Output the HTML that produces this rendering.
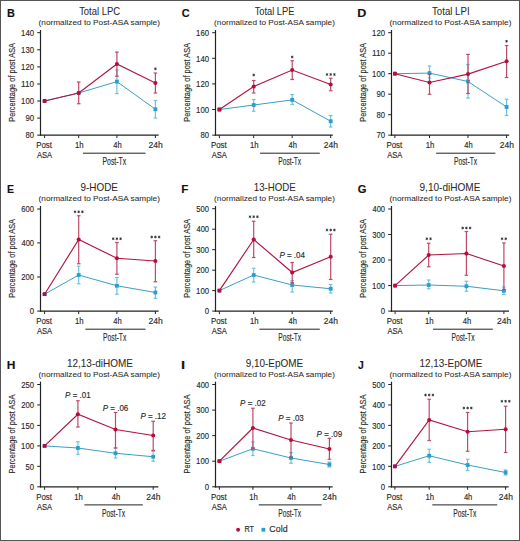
<!DOCTYPE html>
<html><head><meta charset="utf-8"><style>
html,body{margin:0;padding:0;background:#fff;}
body{width:520px;height:541px;overflow:hidden;}
svg{display:block;font-family:"Liberation Sans",sans-serif;}
text{stroke:#2a2a2a;stroke-width:0.15px;}
</style></head><body>
<svg width="520" height="541" viewBox="0 0 520 541">
<rect x="0" y="0" width="520" height="541" fill="#fff"/>
<rect x="0.5" y="0.5" width="519" height="540" fill="none" stroke="#555" stroke-width="1"/>
<text x="6.92" y="17.00" font-size="11.8" fill="#111" textLength="7.86" lengthAdjust="spacingAndGlyphs" font-weight="bold">B</text>
<text x="79.15" y="14.80" font-size="10.1" fill="#2a2a2a" textLength="40.98" lengthAdjust="spacingAndGlyphs" style="stroke-width:0.05px">Total LPC</text>
<text x="38.62" y="24.90" font-size="7.9" fill="#2a2a2a" textLength="121.31" lengthAdjust="spacingAndGlyphs" style="stroke-width:0.05px">(normalized to Post-ASA sample)</text>
<text x="0" y="0" font-size="9.9" fill="#2a2a2a" textLength="78.84" lengthAdjust="spacingAndGlyphs" transform="translate(15.30,121.78) rotate(-90)">Percentage of post ASA</text>
<line x1="40.50" y1="30.00" x2="40.50" y2="135.75" stroke="#222" stroke-width="1.2"/>
<line x1="37.20" y1="32.70" x2="40.50" y2="32.70" stroke="#222" stroke-width="1.0"/>
<text x="21.11" y="35.90" font-size="9" fill="#2a2a2a" textLength="12.98" lengthAdjust="spacingAndGlyphs">140</text>
<line x1="37.20" y1="49.80" x2="40.50" y2="49.80" stroke="#222" stroke-width="1.0"/>
<text x="21.11" y="53.00" font-size="9" fill="#2a2a2a" textLength="12.98" lengthAdjust="spacingAndGlyphs">130</text>
<line x1="37.20" y1="66.90" x2="40.50" y2="66.90" stroke="#222" stroke-width="1.0"/>
<text x="21.11" y="70.10" font-size="9" fill="#2a2a2a" textLength="12.98" lengthAdjust="spacingAndGlyphs">120</text>
<line x1="37.20" y1="84.00" x2="40.50" y2="84.00" stroke="#222" stroke-width="1.0"/>
<text x="21.09" y="87.20" font-size="9" fill="#2a2a2a" textLength="13.01" lengthAdjust="spacingAndGlyphs">110</text>
<line x1="37.20" y1="101.00" x2="40.50" y2="101.00" stroke="#222" stroke-width="1.0"/>
<text x="21.11" y="104.20" font-size="9" fill="#2a2a2a" textLength="12.98" lengthAdjust="spacingAndGlyphs">100</text>
<line x1="37.20" y1="118.10" x2="40.50" y2="118.10" stroke="#222" stroke-width="1.0"/>
<text x="25.44" y="121.30" font-size="9" fill="#2a2a2a" textLength="8.66" lengthAdjust="spacingAndGlyphs">90</text>
<line x1="37.20" y1="135.15" x2="40.50" y2="135.15" stroke="#222" stroke-width="1.0"/>
<text x="25.56" y="138.35" font-size="9" fill="#2a2a2a" textLength="8.53" lengthAdjust="spacingAndGlyphs">80</text>
<line x1="39.90" y1="135.15" x2="158.60" y2="135.15" stroke="#222" stroke-width="1.2"/>
<line x1="44.60" y1="135.15" x2="44.60" y2="138.05" stroke="#222" stroke-width="1.0"/>
<line x1="78.70" y1="135.15" x2="78.70" y2="138.05" stroke="#222" stroke-width="1.0"/>
<line x1="116.90" y1="135.15" x2="116.90" y2="138.05" stroke="#222" stroke-width="1.0"/>
<line x1="155.40" y1="135.15" x2="155.40" y2="138.05" stroke="#222" stroke-width="1.0"/>
<text x="36.18" y="148.10" font-size="8.8" fill="#2a2a2a" textLength="15.79" lengthAdjust="spacingAndGlyphs">Post</text>
<text x="36.90" y="157.80" font-size="8.8" fill="#2a2a2a" textLength="15.16" lengthAdjust="spacingAndGlyphs">ASA</text>
<text x="75.02" y="148.10" font-size="8.8" fill="#2a2a2a" textLength="8.62" lengthAdjust="spacingAndGlyphs">1h</text>
<text x="113.18" y="148.10" font-size="8.8" fill="#2a2a2a" textLength="8.44" lengthAdjust="spacingAndGlyphs">4h</text>
<text x="148.50" y="148.10" font-size="8.8" fill="#2a2a2a" textLength="14.18" lengthAdjust="spacingAndGlyphs">24h</text>
<line x1="83.00" y1="153.20" x2="145.50" y2="153.20" stroke="#222" stroke-width="1.0"/>
<text x="102.46" y="164.80" font-size="10" fill="#2a2a2a" textLength="23.74" lengthAdjust="spacingAndGlyphs">Post-Tx</text>
<line x1="116.90" y1="70.00" x2="116.90" y2="93.60" stroke="#6cc3df" stroke-width="1.2"/>
<line x1="115.10" y1="70.00" x2="118.70" y2="70.00" stroke="#6cc3df" stroke-width="1.2"/>
<line x1="115.10" y1="93.60" x2="118.70" y2="93.60" stroke="#6cc3df" stroke-width="1.2"/>
<line x1="155.40" y1="100.50" x2="155.40" y2="118.00" stroke="#6cc3df" stroke-width="1.2"/>
<line x1="153.60" y1="100.50" x2="157.20" y2="100.50" stroke="#6cc3df" stroke-width="1.2"/>
<line x1="153.60" y1="118.00" x2="157.20" y2="118.00" stroke="#6cc3df" stroke-width="1.2"/>
<polyline points="44.60,101.00 78.70,93.00 116.90,81.60 155.40,109.25" fill="none" stroke="#3a9fc4" stroke-width="1.0"/>
<rect x="42.70" y="99.10" width="3.8" height="3.8" fill="#2a9dcc"/>
<rect x="76.80" y="91.10" width="3.8" height="3.8" fill="#2a9dcc"/>
<rect x="115.00" y="79.70" width="3.8" height="3.8" fill="#2a9dcc"/>
<rect x="153.50" y="107.35" width="3.8" height="3.8" fill="#2a9dcc"/>
<line x1="78.70" y1="82.00" x2="78.70" y2="103.75" stroke="#bd4a68" stroke-width="1.2"/>
<line x1="76.90" y1="82.00" x2="80.50" y2="82.00" stroke="#bd4a68" stroke-width="1.2"/>
<line x1="76.90" y1="103.75" x2="80.50" y2="103.75" stroke="#bd4a68" stroke-width="1.2"/>
<line x1="116.90" y1="52.10" x2="116.90" y2="76.30" stroke="#bd4a68" stroke-width="1.2"/>
<line x1="115.10" y1="52.10" x2="118.70" y2="52.10" stroke="#bd4a68" stroke-width="1.2"/>
<line x1="115.10" y1="76.30" x2="118.70" y2="76.30" stroke="#bd4a68" stroke-width="1.2"/>
<line x1="155.40" y1="73.00" x2="155.40" y2="93.00" stroke="#bd4a68" stroke-width="1.2"/>
<line x1="153.60" y1="73.00" x2="157.20" y2="73.00" stroke="#bd4a68" stroke-width="1.2"/>
<line x1="153.60" y1="93.00" x2="157.20" y2="93.00" stroke="#bd4a68" stroke-width="1.2"/>
<polyline points="44.60,101.00 78.70,93.00 116.90,64.00 155.40,83.00" fill="none" stroke="#b01440" stroke-width="1.15"/>
<rect x="42.70" y="99.10" width="3.8" height="3.8" rx="0.9" fill="#b80c3c"/>
<circle cx="78.70" cy="93.00" r="2.05" fill="#b80c3c"/>
<circle cx="116.90" cy="64.00" r="2.05" fill="#b80c3c"/>
<circle cx="155.40" cy="83.00" r="2.05" fill="#b80c3c"/>
<path d="M155.40,67.45L155.40,70.15 M156.57,68.13L154.23,69.47 M156.57,69.48L154.23,68.12" stroke="#2a2a2a" stroke-width="0.8" fill="none"/>
<text x="181.66" y="17.00" font-size="11.8" fill="#111" textLength="7.85" lengthAdjust="spacingAndGlyphs" font-weight="bold">C</text>
<text x="254.65" y="14.80" font-size="10.1" fill="#2a2a2a" textLength="39.73" lengthAdjust="spacingAndGlyphs" style="stroke-width:0.05px">Total LPE</text>
<text x="214.12" y="24.90" font-size="7.9" fill="#2a2a2a" textLength="120.81" lengthAdjust="spacingAndGlyphs" style="stroke-width:0.05px">(normalized to Post-ASA sample)</text>
<text x="0" y="0" font-size="9.9" fill="#2a2a2a" textLength="78.84" lengthAdjust="spacingAndGlyphs" transform="translate(190.30,121.78) rotate(-90)">Percentage of post ASA</text>
<line x1="215.50" y1="30.00" x2="215.50" y2="135.75" stroke="#222" stroke-width="1.2"/>
<line x1="212.20" y1="32.70" x2="215.50" y2="32.70" stroke="#222" stroke-width="1.0"/>
<text x="196.11" y="35.90" font-size="9" fill="#2a2a2a" textLength="12.98" lengthAdjust="spacingAndGlyphs">160</text>
<line x1="212.20" y1="58.30" x2="215.50" y2="58.30" stroke="#222" stroke-width="1.0"/>
<text x="196.11" y="61.50" font-size="9" fill="#2a2a2a" textLength="12.98" lengthAdjust="spacingAndGlyphs">140</text>
<line x1="212.20" y1="83.90" x2="215.50" y2="83.90" stroke="#222" stroke-width="1.0"/>
<text x="196.11" y="87.10" font-size="9" fill="#2a2a2a" textLength="12.98" lengthAdjust="spacingAndGlyphs">120</text>
<line x1="212.20" y1="109.50" x2="215.50" y2="109.50" stroke="#222" stroke-width="1.0"/>
<text x="196.11" y="112.70" font-size="9" fill="#2a2a2a" textLength="12.98" lengthAdjust="spacingAndGlyphs">100</text>
<line x1="212.20" y1="135.15" x2="215.50" y2="135.15" stroke="#222" stroke-width="1.0"/>
<text x="200.56" y="138.35" font-size="9" fill="#2a2a2a" textLength="8.53" lengthAdjust="spacingAndGlyphs">80</text>
<line x1="214.90" y1="135.15" x2="332.80" y2="135.15" stroke="#222" stroke-width="1.2"/>
<line x1="219.40" y1="135.15" x2="219.40" y2="138.05" stroke="#222" stroke-width="1.0"/>
<line x1="253.70" y1="135.15" x2="253.70" y2="138.05" stroke="#222" stroke-width="1.0"/>
<line x1="292.20" y1="135.15" x2="292.20" y2="138.05" stroke="#222" stroke-width="1.0"/>
<line x1="330.70" y1="135.15" x2="330.70" y2="138.05" stroke="#222" stroke-width="1.0"/>
<text x="210.98" y="148.10" font-size="8.8" fill="#2a2a2a" textLength="15.79" lengthAdjust="spacingAndGlyphs">Post</text>
<text x="211.70" y="157.80" font-size="8.8" fill="#2a2a2a" textLength="15.16" lengthAdjust="spacingAndGlyphs">ASA</text>
<text x="250.02" y="148.10" font-size="8.8" fill="#2a2a2a" textLength="8.62" lengthAdjust="spacingAndGlyphs">1h</text>
<text x="288.48" y="148.10" font-size="8.8" fill="#2a2a2a" textLength="8.44" lengthAdjust="spacingAndGlyphs">4h</text>
<text x="323.80" y="148.10" font-size="8.8" fill="#2a2a2a" textLength="14.18" lengthAdjust="spacingAndGlyphs">24h</text>
<line x1="260.10" y1="153.20" x2="319.80" y2="153.20" stroke="#222" stroke-width="1.0"/>
<text x="278.28" y="164.80" font-size="10" fill="#2a2a2a" textLength="22.92" lengthAdjust="spacingAndGlyphs">Post-Tx</text>
<line x1="253.70" y1="99.50" x2="253.70" y2="111.25" stroke="#6cc3df" stroke-width="1.2"/>
<line x1="251.90" y1="99.50" x2="255.50" y2="99.50" stroke="#6cc3df" stroke-width="1.2"/>
<line x1="251.90" y1="111.25" x2="255.50" y2="111.25" stroke="#6cc3df" stroke-width="1.2"/>
<line x1="292.20" y1="94.50" x2="292.20" y2="104.50" stroke="#6cc3df" stroke-width="1.2"/>
<line x1="290.40" y1="94.50" x2="294.00" y2="94.50" stroke="#6cc3df" stroke-width="1.2"/>
<line x1="290.40" y1="104.50" x2="294.00" y2="104.50" stroke="#6cc3df" stroke-width="1.2"/>
<line x1="330.70" y1="115.50" x2="330.70" y2="127.00" stroke="#6cc3df" stroke-width="1.2"/>
<line x1="328.90" y1="115.50" x2="332.50" y2="115.50" stroke="#6cc3df" stroke-width="1.2"/>
<line x1="328.90" y1="127.00" x2="332.50" y2="127.00" stroke="#6cc3df" stroke-width="1.2"/>
<polyline points="219.40,109.50 253.70,105.00 292.20,99.90 330.70,121.25" fill="none" stroke="#3a9fc4" stroke-width="1.0"/>
<rect x="217.50" y="107.60" width="3.8" height="3.8" fill="#2a9dcc"/>
<rect x="251.80" y="103.10" width="3.8" height="3.8" fill="#2a9dcc"/>
<rect x="290.30" y="98.00" width="3.8" height="3.8" fill="#2a9dcc"/>
<rect x="328.80" y="119.35" width="3.8" height="3.8" fill="#2a9dcc"/>
<line x1="253.70" y1="80.50" x2="253.70" y2="93.00" stroke="#bd4a68" stroke-width="1.2"/>
<line x1="251.90" y1="80.50" x2="255.50" y2="80.50" stroke="#bd4a68" stroke-width="1.2"/>
<line x1="251.90" y1="93.00" x2="255.50" y2="93.00" stroke="#bd4a68" stroke-width="1.2"/>
<line x1="292.20" y1="60.75" x2="292.20" y2="79.50" stroke="#bd4a68" stroke-width="1.2"/>
<line x1="290.40" y1="60.75" x2="294.00" y2="60.75" stroke="#bd4a68" stroke-width="1.2"/>
<line x1="290.40" y1="79.50" x2="294.00" y2="79.50" stroke="#bd4a68" stroke-width="1.2"/>
<line x1="330.70" y1="78.25" x2="330.70" y2="90.75" stroke="#bd4a68" stroke-width="1.2"/>
<line x1="328.90" y1="78.25" x2="332.50" y2="78.25" stroke="#bd4a68" stroke-width="1.2"/>
<line x1="328.90" y1="90.75" x2="332.50" y2="90.75" stroke="#bd4a68" stroke-width="1.2"/>
<polyline points="219.40,109.50 253.70,86.60 292.20,70.00 330.70,84.50" fill="none" stroke="#b01440" stroke-width="1.15"/>
<rect x="217.50" y="107.60" width="3.8" height="3.8" rx="0.9" fill="#b80c3c"/>
<circle cx="253.70" cy="86.60" r="2.05" fill="#b80c3c"/>
<circle cx="292.20" cy="70.00" r="2.05" fill="#b80c3c"/>
<circle cx="330.70" cy="84.50" r="2.05" fill="#b80c3c"/>
<path d="M253.70,73.65L253.70,76.35 M254.87,74.33L252.53,75.67 M254.87,75.68L252.53,74.32" stroke="#2a2a2a" stroke-width="0.8" fill="none"/>
<path d="M292.20,55.65L292.20,58.35 M293.37,56.33L291.03,57.67 M293.37,57.68L291.03,56.32" stroke="#2a2a2a" stroke-width="0.8" fill="none"/>
<path d="M327.00,73.15L327.00,75.85 M328.17,73.83L325.83,75.17 M328.17,75.18L325.83,73.82" stroke="#2a2a2a" stroke-width="0.8" fill="none"/>
<path d="M330.70,73.15L330.70,75.85 M331.87,73.83L329.53,75.17 M331.87,75.18L329.53,73.82" stroke="#2a2a2a" stroke-width="0.8" fill="none"/>
<path d="M334.40,73.15L334.40,75.85 M335.57,73.83L333.23,75.17 M335.57,75.18L333.23,73.82" stroke="#2a2a2a" stroke-width="0.8" fill="none"/>
<text x="357.31" y="17.00" font-size="11.8" fill="#111" textLength="9.07" lengthAdjust="spacingAndGlyphs" font-weight="bold">D</text>
<text x="432.00" y="14.80" font-size="10.1" fill="#2a2a2a" textLength="37.57" lengthAdjust="spacingAndGlyphs" style="stroke-width:0.05px">Total LPI</text>
<text x="389.61" y="24.90" font-size="7.9" fill="#2a2a2a" textLength="121.81" lengthAdjust="spacingAndGlyphs" style="stroke-width:0.05px">(normalized to Post-ASA sample)</text>
<text x="0" y="0" font-size="9.9" fill="#2a2a2a" textLength="78.84" lengthAdjust="spacingAndGlyphs" transform="translate(366.30,121.78) rotate(-90)">Percentage of post ASA</text>
<line x1="391.50" y1="30.00" x2="391.50" y2="135.75" stroke="#222" stroke-width="1.2"/>
<line x1="388.20" y1="32.70" x2="391.50" y2="32.70" stroke="#222" stroke-width="1.0"/>
<text x="372.11" y="35.90" font-size="9" fill="#2a2a2a" textLength="12.98" lengthAdjust="spacingAndGlyphs">120</text>
<line x1="388.20" y1="53.20" x2="391.50" y2="53.20" stroke="#222" stroke-width="1.0"/>
<text x="372.09" y="56.40" font-size="9" fill="#2a2a2a" textLength="13.01" lengthAdjust="spacingAndGlyphs">110</text>
<line x1="388.20" y1="73.70" x2="391.50" y2="73.70" stroke="#222" stroke-width="1.0"/>
<text x="372.11" y="76.90" font-size="9" fill="#2a2a2a" textLength="12.98" lengthAdjust="spacingAndGlyphs">100</text>
<line x1="388.20" y1="94.20" x2="391.50" y2="94.20" stroke="#222" stroke-width="1.0"/>
<text x="376.44" y="97.40" font-size="9" fill="#2a2a2a" textLength="8.66" lengthAdjust="spacingAndGlyphs">90</text>
<line x1="388.20" y1="114.70" x2="391.50" y2="114.70" stroke="#222" stroke-width="1.0"/>
<text x="376.56" y="117.90" font-size="9" fill="#2a2a2a" textLength="8.53" lengthAdjust="spacingAndGlyphs">80</text>
<line x1="388.20" y1="135.15" x2="391.50" y2="135.15" stroke="#222" stroke-width="1.0"/>
<text x="376.44" y="138.35" font-size="9" fill="#2a2a2a" textLength="8.66" lengthAdjust="spacingAndGlyphs">70</text>
<line x1="390.90" y1="135.15" x2="509.20" y2="135.15" stroke="#222" stroke-width="1.2"/>
<line x1="394.90" y1="135.15" x2="394.90" y2="138.05" stroke="#222" stroke-width="1.0"/>
<line x1="429.50" y1="135.15" x2="429.50" y2="138.05" stroke="#222" stroke-width="1.0"/>
<line x1="468.00" y1="135.15" x2="468.00" y2="138.05" stroke="#222" stroke-width="1.0"/>
<line x1="506.60" y1="135.15" x2="506.60" y2="138.05" stroke="#222" stroke-width="1.0"/>
<text x="386.48" y="148.10" font-size="8.8" fill="#2a2a2a" textLength="15.79" lengthAdjust="spacingAndGlyphs">Post</text>
<text x="387.20" y="157.80" font-size="8.8" fill="#2a2a2a" textLength="15.16" lengthAdjust="spacingAndGlyphs">ASA</text>
<text x="425.82" y="148.10" font-size="8.8" fill="#2a2a2a" textLength="8.62" lengthAdjust="spacingAndGlyphs">1h</text>
<text x="464.28" y="148.10" font-size="8.8" fill="#2a2a2a" textLength="8.44" lengthAdjust="spacingAndGlyphs">4h</text>
<text x="499.70" y="148.10" font-size="8.8" fill="#2a2a2a" textLength="14.18" lengthAdjust="spacingAndGlyphs">24h</text>
<line x1="436.20" y1="153.20" x2="495.40" y2="153.20" stroke="#222" stroke-width="1.0"/>
<text x="454.08" y="164.80" font-size="10" fill="#2a2a2a" textLength="23.02" lengthAdjust="spacingAndGlyphs">Post-Tx</text>
<line x1="429.50" y1="66.00" x2="429.50" y2="78.00" stroke="#6cc3df" stroke-width="1.2"/>
<line x1="427.70" y1="66.00" x2="431.30" y2="66.00" stroke="#6cc3df" stroke-width="1.2"/>
<line x1="427.70" y1="78.00" x2="431.30" y2="78.00" stroke="#6cc3df" stroke-width="1.2"/>
<line x1="468.00" y1="64.50" x2="468.00" y2="98.10" stroke="#6cc3df" stroke-width="1.2"/>
<line x1="466.20" y1="64.50" x2="469.80" y2="64.50" stroke="#6cc3df" stroke-width="1.2"/>
<line x1="466.20" y1="98.10" x2="469.80" y2="98.10" stroke="#6cc3df" stroke-width="1.2"/>
<line x1="506.60" y1="99.25" x2="506.60" y2="115.50" stroke="#6cc3df" stroke-width="1.2"/>
<line x1="504.80" y1="99.25" x2="508.40" y2="99.25" stroke="#6cc3df" stroke-width="1.2"/>
<line x1="504.80" y1="115.50" x2="508.40" y2="115.50" stroke="#6cc3df" stroke-width="1.2"/>
<polyline points="394.90,73.70 429.50,73.10 468.00,81.50 506.60,107.00" fill="none" stroke="#3a9fc4" stroke-width="1.0"/>
<rect x="393.00" y="71.80" width="3.8" height="3.8" fill="#2a9dcc"/>
<rect x="427.60" y="71.20" width="3.8" height="3.8" fill="#2a9dcc"/>
<rect x="466.10" y="79.60" width="3.8" height="3.8" fill="#2a9dcc"/>
<rect x="504.70" y="105.10" width="3.8" height="3.8" fill="#2a9dcc"/>
<line x1="429.50" y1="74.00" x2="429.50" y2="94.25" stroke="#bd4a68" stroke-width="1.2"/>
<line x1="427.70" y1="74.00" x2="431.30" y2="74.00" stroke="#bd4a68" stroke-width="1.2"/>
<line x1="427.70" y1="94.25" x2="431.30" y2="94.25" stroke="#bd4a68" stroke-width="1.2"/>
<line x1="468.00" y1="54.40" x2="468.00" y2="93.50" stroke="#bd4a68" stroke-width="1.2"/>
<line x1="466.20" y1="54.40" x2="469.80" y2="54.40" stroke="#bd4a68" stroke-width="1.2"/>
<line x1="466.20" y1="93.50" x2="469.80" y2="93.50" stroke="#bd4a68" stroke-width="1.2"/>
<line x1="506.60" y1="45.50" x2="506.60" y2="77.50" stroke="#bd4a68" stroke-width="1.2"/>
<line x1="504.80" y1="45.50" x2="508.40" y2="45.50" stroke="#bd4a68" stroke-width="1.2"/>
<line x1="504.80" y1="77.50" x2="508.40" y2="77.50" stroke="#bd4a68" stroke-width="1.2"/>
<polyline points="394.90,73.70 429.50,82.50 468.00,74.10 506.60,61.25" fill="none" stroke="#b01440" stroke-width="1.15"/>
<rect x="393.00" y="71.80" width="3.8" height="3.8" rx="0.9" fill="#b80c3c"/>
<circle cx="429.50" cy="82.50" r="2.05" fill="#b80c3c"/>
<circle cx="468.00" cy="74.10" r="2.05" fill="#b80c3c"/>
<circle cx="506.60" cy="61.25" r="2.05" fill="#b80c3c"/>
<path d="M506.60,39.90L506.60,42.60 M507.77,40.58L505.43,41.92 M507.77,41.93L505.43,40.57" stroke="#2a2a2a" stroke-width="0.8" fill="none"/>
<text x="6.94" y="193.00" font-size="11.8" fill="#111" textLength="7.04" lengthAdjust="spacingAndGlyphs" font-weight="bold">E</text>
<text x="80.49" y="190.80" font-size="10.1" fill="#2a2a2a" textLength="37.43" lengthAdjust="spacingAndGlyphs" style="stroke-width:0.05px">9-HODE</text>
<text x="38.62" y="200.90" font-size="7.9" fill="#2a2a2a" textLength="121.31" lengthAdjust="spacingAndGlyphs" style="stroke-width:0.05px">(normalized to Post-ASA sample)</text>
<text x="0" y="0" font-size="9.9" fill="#2a2a2a" textLength="78.84" lengthAdjust="spacingAndGlyphs" transform="translate(15.30,297.78) rotate(-90)">Percentage of post ASA</text>
<line x1="40.50" y1="206.00" x2="40.50" y2="311.75" stroke="#222" stroke-width="1.2"/>
<line x1="37.20" y1="209.00" x2="40.50" y2="209.00" stroke="#222" stroke-width="1.0"/>
<text x="21.24" y="212.20" font-size="9" fill="#2a2a2a" textLength="12.85" lengthAdjust="spacingAndGlyphs">600</text>
<line x1="37.20" y1="242.90" x2="40.50" y2="242.90" stroke="#222" stroke-width="1.0"/>
<text x="21.48" y="246.10" font-size="9" fill="#2a2a2a" textLength="12.61" lengthAdjust="spacingAndGlyphs">400</text>
<line x1="37.20" y1="277.00" x2="40.50" y2="277.00" stroke="#222" stroke-width="1.0"/>
<text x="21.24" y="280.20" font-size="9" fill="#2a2a2a" textLength="12.85" lengthAdjust="spacingAndGlyphs">200</text>
<line x1="37.20" y1="311.10" x2="40.50" y2="311.10" stroke="#222" stroke-width="1.0"/>
<text x="29.76" y="314.30" font-size="9" fill="#2a2a2a" textLength="4.34" lengthAdjust="spacingAndGlyphs">0</text>
<line x1="39.90" y1="311.15" x2="158.60" y2="311.15" stroke="#222" stroke-width="1.2"/>
<line x1="44.60" y1="311.15" x2="44.60" y2="314.05" stroke="#222" stroke-width="1.0"/>
<line x1="78.70" y1="311.15" x2="78.70" y2="314.05" stroke="#222" stroke-width="1.0"/>
<line x1="116.90" y1="311.15" x2="116.90" y2="314.05" stroke="#222" stroke-width="1.0"/>
<line x1="155.40" y1="311.15" x2="155.40" y2="314.05" stroke="#222" stroke-width="1.0"/>
<text x="36.18" y="324.10" font-size="8.8" fill="#2a2a2a" textLength="15.79" lengthAdjust="spacingAndGlyphs">Post</text>
<text x="36.90" y="333.80" font-size="8.8" fill="#2a2a2a" textLength="15.16" lengthAdjust="spacingAndGlyphs">ASA</text>
<text x="75.02" y="324.10" font-size="8.8" fill="#2a2a2a" textLength="8.62" lengthAdjust="spacingAndGlyphs">1h</text>
<text x="113.18" y="324.10" font-size="8.8" fill="#2a2a2a" textLength="8.44" lengthAdjust="spacingAndGlyphs">4h</text>
<text x="148.50" y="324.10" font-size="8.8" fill="#2a2a2a" textLength="14.18" lengthAdjust="spacingAndGlyphs">24h</text>
<line x1="85.40" y1="329.20" x2="145.50" y2="329.20" stroke="#222" stroke-width="1.0"/>
<text x="103.07" y="340.80" font-size="10" fill="#2a2a2a" textLength="23.23" lengthAdjust="spacingAndGlyphs">Post-Tx</text>
<line x1="78.70" y1="266.25" x2="78.70" y2="283.75" stroke="#6cc3df" stroke-width="1.2"/>
<line x1="76.90" y1="266.25" x2="80.50" y2="266.25" stroke="#6cc3df" stroke-width="1.2"/>
<line x1="76.90" y1="283.75" x2="80.50" y2="283.75" stroke="#6cc3df" stroke-width="1.2"/>
<line x1="116.90" y1="277.50" x2="116.90" y2="294.25" stroke="#6cc3df" stroke-width="1.2"/>
<line x1="115.10" y1="277.50" x2="118.70" y2="277.50" stroke="#6cc3df" stroke-width="1.2"/>
<line x1="115.10" y1="294.25" x2="118.70" y2="294.25" stroke="#6cc3df" stroke-width="1.2"/>
<line x1="155.40" y1="287.00" x2="155.40" y2="298.25" stroke="#6cc3df" stroke-width="1.2"/>
<line x1="153.60" y1="287.00" x2="157.20" y2="287.00" stroke="#6cc3df" stroke-width="1.2"/>
<line x1="153.60" y1="298.25" x2="157.20" y2="298.25" stroke="#6cc3df" stroke-width="1.2"/>
<polyline points="44.60,294.20 78.70,275.00 116.90,285.75 155.40,292.50" fill="none" stroke="#3a9fc4" stroke-width="1.0"/>
<rect x="42.70" y="292.30" width="3.8" height="3.8" fill="#2a9dcc"/>
<rect x="76.80" y="273.10" width="3.8" height="3.8" fill="#2a9dcc"/>
<rect x="115.00" y="283.85" width="3.8" height="3.8" fill="#2a9dcc"/>
<rect x="153.50" y="290.60" width="3.8" height="3.8" fill="#2a9dcc"/>
<line x1="78.70" y1="215.75" x2="78.70" y2="263.75" stroke="#bd4a68" stroke-width="1.2"/>
<line x1="76.90" y1="215.75" x2="80.50" y2="215.75" stroke="#bd4a68" stroke-width="1.2"/>
<line x1="76.90" y1="263.75" x2="80.50" y2="263.75" stroke="#bd4a68" stroke-width="1.2"/>
<line x1="116.90" y1="242.50" x2="116.90" y2="274.25" stroke="#bd4a68" stroke-width="1.2"/>
<line x1="115.10" y1="242.50" x2="118.70" y2="242.50" stroke="#bd4a68" stroke-width="1.2"/>
<line x1="115.10" y1="274.25" x2="118.70" y2="274.25" stroke="#bd4a68" stroke-width="1.2"/>
<line x1="155.40" y1="240.75" x2="155.40" y2="281.75" stroke="#bd4a68" stroke-width="1.2"/>
<line x1="153.60" y1="240.75" x2="157.20" y2="240.75" stroke="#bd4a68" stroke-width="1.2"/>
<line x1="153.60" y1="281.75" x2="157.20" y2="281.75" stroke="#bd4a68" stroke-width="1.2"/>
<polyline points="44.60,294.20 78.70,239.50 116.90,258.25 155.40,261.00" fill="none" stroke="#b01440" stroke-width="1.15"/>
<rect x="42.70" y="292.30" width="3.8" height="3.8" rx="0.9" fill="#b80c3c"/>
<circle cx="78.70" cy="239.50" r="2.05" fill="#b80c3c"/>
<circle cx="116.90" cy="258.25" r="2.05" fill="#b80c3c"/>
<circle cx="155.40" cy="261.00" r="2.05" fill="#b80c3c"/>
<path d="M75.00,210.45L75.00,213.15 M76.17,211.13L73.83,212.47 M76.17,212.48L73.83,211.12" stroke="#2a2a2a" stroke-width="0.8" fill="none"/>
<path d="M78.70,210.45L78.70,213.15 M79.87,211.13L77.53,212.47 M79.87,212.48L77.53,211.12" stroke="#2a2a2a" stroke-width="0.8" fill="none"/>
<path d="M82.40,210.45L82.40,213.15 M83.57,211.13L81.23,212.47 M83.57,212.48L81.23,211.12" stroke="#2a2a2a" stroke-width="0.8" fill="none"/>
<path d="M113.20,237.40L113.20,240.10 M114.37,238.08L112.03,239.42 M114.37,239.43L112.03,238.07" stroke="#2a2a2a" stroke-width="0.8" fill="none"/>
<path d="M116.90,237.40L116.90,240.10 M118.07,238.08L115.73,239.42 M118.07,239.43L115.73,238.07" stroke="#2a2a2a" stroke-width="0.8" fill="none"/>
<path d="M120.60,237.40L120.60,240.10 M121.77,238.08L119.43,239.42 M121.77,239.43L119.43,238.07" stroke="#2a2a2a" stroke-width="0.8" fill="none"/>
<path d="M151.70,235.65L151.70,238.35 M152.87,236.33L150.53,237.67 M152.87,237.68L150.53,236.32" stroke="#2a2a2a" stroke-width="0.8" fill="none"/>
<path d="M155.40,235.65L155.40,238.35 M156.57,236.33L154.23,237.67 M156.57,237.68L154.23,236.32" stroke="#2a2a2a" stroke-width="0.8" fill="none"/>
<path d="M159.10,235.65L159.10,238.35 M160.27,236.33L157.93,237.67 M160.27,237.68L157.93,236.32" stroke="#2a2a2a" stroke-width="0.8" fill="none"/>
<text x="181.27" y="193.00" font-size="11.8" fill="#111" textLength="7.11" lengthAdjust="spacingAndGlyphs" font-weight="bold">F</text>
<text x="253.84" y="190.80" font-size="10.1" fill="#2a2a2a" textLength="41.96" lengthAdjust="spacingAndGlyphs" style="stroke-width:0.05px">13-HODE</text>
<text x="214.12" y="200.90" font-size="7.9" fill="#2a2a2a" textLength="120.81" lengthAdjust="spacingAndGlyphs" style="stroke-width:0.05px">(normalized to Post-ASA sample)</text>
<text x="0" y="0" font-size="9.9" fill="#2a2a2a" textLength="78.84" lengthAdjust="spacingAndGlyphs" transform="translate(190.30,297.78) rotate(-90)">Percentage of post ASA</text>
<line x1="215.50" y1="206.00" x2="215.50" y2="311.75" stroke="#222" stroke-width="1.2"/>
<line x1="212.20" y1="208.70" x2="215.50" y2="208.70" stroke="#222" stroke-width="1.0"/>
<text x="196.36" y="211.90" font-size="9" fill="#2a2a2a" textLength="12.73" lengthAdjust="spacingAndGlyphs">500</text>
<line x1="212.20" y1="229.20" x2="215.50" y2="229.20" stroke="#222" stroke-width="1.0"/>
<text x="196.48" y="232.40" font-size="9" fill="#2a2a2a" textLength="12.61" lengthAdjust="spacingAndGlyphs">400</text>
<line x1="212.20" y1="249.70" x2="215.50" y2="249.70" stroke="#222" stroke-width="1.0"/>
<text x="196.36" y="252.90" font-size="9" fill="#2a2a2a" textLength="12.73" lengthAdjust="spacingAndGlyphs">300</text>
<line x1="212.20" y1="270.20" x2="215.50" y2="270.20" stroke="#222" stroke-width="1.0"/>
<text x="196.24" y="273.40" font-size="9" fill="#2a2a2a" textLength="12.85" lengthAdjust="spacingAndGlyphs">200</text>
<line x1="212.20" y1="290.60" x2="215.50" y2="290.60" stroke="#222" stroke-width="1.0"/>
<text x="196.11" y="293.80" font-size="9" fill="#2a2a2a" textLength="12.98" lengthAdjust="spacingAndGlyphs">100</text>
<line x1="212.20" y1="311.10" x2="215.50" y2="311.10" stroke="#222" stroke-width="1.0"/>
<text x="204.76" y="314.30" font-size="9" fill="#2a2a2a" textLength="4.34" lengthAdjust="spacingAndGlyphs">0</text>
<line x1="214.90" y1="311.15" x2="332.80" y2="311.15" stroke="#222" stroke-width="1.2"/>
<line x1="219.40" y1="311.15" x2="219.40" y2="314.05" stroke="#222" stroke-width="1.0"/>
<line x1="253.70" y1="311.15" x2="253.70" y2="314.05" stroke="#222" stroke-width="1.0"/>
<line x1="292.20" y1="311.15" x2="292.20" y2="314.05" stroke="#222" stroke-width="1.0"/>
<line x1="330.70" y1="311.15" x2="330.70" y2="314.05" stroke="#222" stroke-width="1.0"/>
<text x="210.98" y="324.10" font-size="8.8" fill="#2a2a2a" textLength="15.79" lengthAdjust="spacingAndGlyphs">Post</text>
<text x="211.70" y="333.80" font-size="8.8" fill="#2a2a2a" textLength="15.16" lengthAdjust="spacingAndGlyphs">ASA</text>
<text x="250.02" y="324.10" font-size="8.8" fill="#2a2a2a" textLength="8.62" lengthAdjust="spacingAndGlyphs">1h</text>
<text x="288.48" y="324.10" font-size="8.8" fill="#2a2a2a" textLength="8.44" lengthAdjust="spacingAndGlyphs">4h</text>
<text x="323.80" y="324.10" font-size="8.8" fill="#2a2a2a" textLength="14.18" lengthAdjust="spacingAndGlyphs">24h</text>
<line x1="259.40" y1="329.20" x2="319.80" y2="329.20" stroke="#222" stroke-width="1.0"/>
<text x="278.28" y="340.80" font-size="10" fill="#2a2a2a" textLength="22.92" lengthAdjust="spacingAndGlyphs">Post-Tx</text>
<line x1="253.70" y1="268.25" x2="253.70" y2="282.00" stroke="#6cc3df" stroke-width="1.2"/>
<line x1="251.90" y1="268.25" x2="255.50" y2="268.25" stroke="#6cc3df" stroke-width="1.2"/>
<line x1="251.90" y1="282.00" x2="255.50" y2="282.00" stroke="#6cc3df" stroke-width="1.2"/>
<line x1="292.20" y1="280.50" x2="292.20" y2="292.00" stroke="#6cc3df" stroke-width="1.2"/>
<line x1="290.40" y1="280.50" x2="294.00" y2="280.50" stroke="#6cc3df" stroke-width="1.2"/>
<line x1="290.40" y1="292.00" x2="294.00" y2="292.00" stroke="#6cc3df" stroke-width="1.2"/>
<line x1="330.70" y1="284.50" x2="330.70" y2="293.00" stroke="#6cc3df" stroke-width="1.2"/>
<line x1="328.90" y1="284.50" x2="332.50" y2="284.50" stroke="#6cc3df" stroke-width="1.2"/>
<line x1="328.90" y1="293.00" x2="332.50" y2="293.00" stroke="#6cc3df" stroke-width="1.2"/>
<polyline points="219.40,290.60 253.70,275.00 292.20,285.00 330.70,288.75" fill="none" stroke="#3a9fc4" stroke-width="1.0"/>
<rect x="217.50" y="288.70" width="3.8" height="3.8" fill="#2a9dcc"/>
<rect x="251.80" y="273.10" width="3.8" height="3.8" fill="#2a9dcc"/>
<rect x="290.30" y="283.10" width="3.8" height="3.8" fill="#2a9dcc"/>
<rect x="328.80" y="286.85" width="3.8" height="3.8" fill="#2a9dcc"/>
<line x1="253.70" y1="221.25" x2="253.70" y2="257.50" stroke="#bd4a68" stroke-width="1.2"/>
<line x1="251.90" y1="221.25" x2="255.50" y2="221.25" stroke="#bd4a68" stroke-width="1.2"/>
<line x1="251.90" y1="257.50" x2="255.50" y2="257.50" stroke="#bd4a68" stroke-width="1.2"/>
<line x1="292.20" y1="262.50" x2="292.20" y2="282.50" stroke="#bd4a68" stroke-width="1.2"/>
<line x1="290.40" y1="262.50" x2="294.00" y2="262.50" stroke="#bd4a68" stroke-width="1.2"/>
<line x1="290.40" y1="282.50" x2="294.00" y2="282.50" stroke="#bd4a68" stroke-width="1.2"/>
<line x1="330.70" y1="234.25" x2="330.70" y2="279.50" stroke="#bd4a68" stroke-width="1.2"/>
<line x1="328.90" y1="234.25" x2="332.50" y2="234.25" stroke="#bd4a68" stroke-width="1.2"/>
<line x1="328.90" y1="279.50" x2="332.50" y2="279.50" stroke="#bd4a68" stroke-width="1.2"/>
<polyline points="219.40,290.60 253.70,239.50 292.20,272.50 330.70,256.75" fill="none" stroke="#b01440" stroke-width="1.15"/>
<rect x="217.50" y="288.70" width="3.8" height="3.8" rx="0.9" fill="#b80c3c"/>
<circle cx="253.70" cy="239.50" r="2.05" fill="#b80c3c"/>
<circle cx="292.20" cy="272.50" r="2.05" fill="#b80c3c"/>
<circle cx="330.70" cy="256.75" r="2.05" fill="#b80c3c"/>
<path d="M250.00,215.40L250.00,218.10 M251.17,216.08L248.83,217.42 M251.17,217.43L248.83,216.07" stroke="#2a2a2a" stroke-width="0.8" fill="none"/>
<path d="M253.70,215.40L253.70,218.10 M254.87,216.08L252.53,217.42 M254.87,217.43L252.53,216.07" stroke="#2a2a2a" stroke-width="0.8" fill="none"/>
<path d="M257.40,215.40L257.40,218.10 M258.57,216.08L256.23,217.42 M258.57,217.43L256.23,216.07" stroke="#2a2a2a" stroke-width="0.8" fill="none"/>
<text x="292.20" y="258.35" font-size="8.6" text-anchor="middle" fill="#2a2a2a" textLength="25.6" lengthAdjust="spacingAndGlyphs"><tspan font-style="italic">P</tspan> = .04</text>
<path d="M327.00,228.65L327.00,231.35 M328.17,229.33L325.83,230.67 M328.17,230.68L325.83,229.32" stroke="#2a2a2a" stroke-width="0.8" fill="none"/>
<path d="M330.70,228.65L330.70,231.35 M331.87,229.33L329.53,230.67 M331.87,230.68L329.53,229.32" stroke="#2a2a2a" stroke-width="0.8" fill="none"/>
<path d="M334.40,228.65L334.40,231.35 M335.57,229.33L333.23,230.67 M335.57,230.68L333.23,229.32" stroke="#2a2a2a" stroke-width="0.8" fill="none"/>
<text x="357.75" y="193.00" font-size="11.8" fill="#111" textLength="8.71" lengthAdjust="spacingAndGlyphs" font-weight="bold">G</text>
<text x="419.53" y="190.80" font-size="10.1" fill="#2a2a2a" textLength="60.89" lengthAdjust="spacingAndGlyphs" style="stroke-width:0.05px">9,10-diHOME</text>
<text x="389.61" y="200.90" font-size="7.9" fill="#2a2a2a" textLength="121.81" lengthAdjust="spacingAndGlyphs" style="stroke-width:0.05px">(normalized to Post-ASA sample)</text>
<text x="0" y="0" font-size="9.9" fill="#2a2a2a" textLength="78.84" lengthAdjust="spacingAndGlyphs" transform="translate(366.30,297.78) rotate(-90)">Percentage of post ASA</text>
<line x1="391.50" y1="206.00" x2="391.50" y2="311.75" stroke="#222" stroke-width="1.2"/>
<line x1="388.20" y1="209.00" x2="391.50" y2="209.00" stroke="#222" stroke-width="1.0"/>
<text x="372.48" y="212.20" font-size="9" fill="#2a2a2a" textLength="12.61" lengthAdjust="spacingAndGlyphs">400</text>
<line x1="388.20" y1="234.50" x2="391.50" y2="234.50" stroke="#222" stroke-width="1.0"/>
<text x="372.36" y="237.70" font-size="9" fill="#2a2a2a" textLength="12.73" lengthAdjust="spacingAndGlyphs">300</text>
<line x1="388.20" y1="260.00" x2="391.50" y2="260.00" stroke="#222" stroke-width="1.0"/>
<text x="372.24" y="263.20" font-size="9" fill="#2a2a2a" textLength="12.85" lengthAdjust="spacingAndGlyphs">200</text>
<line x1="388.20" y1="285.60" x2="391.50" y2="285.60" stroke="#222" stroke-width="1.0"/>
<text x="372.11" y="288.80" font-size="9" fill="#2a2a2a" textLength="12.98" lengthAdjust="spacingAndGlyphs">100</text>
<line x1="388.20" y1="311.10" x2="391.50" y2="311.10" stroke="#222" stroke-width="1.0"/>
<text x="380.76" y="314.30" font-size="9" fill="#2a2a2a" textLength="4.34" lengthAdjust="spacingAndGlyphs">0</text>
<line x1="390.90" y1="311.15" x2="509.00" y2="311.15" stroke="#222" stroke-width="1.2"/>
<line x1="395.10" y1="311.15" x2="395.10" y2="314.05" stroke="#222" stroke-width="1.0"/>
<line x1="428.70" y1="311.15" x2="428.70" y2="314.05" stroke="#222" stroke-width="1.0"/>
<line x1="466.40" y1="311.15" x2="466.40" y2="314.05" stroke="#222" stroke-width="1.0"/>
<line x1="503.90" y1="311.15" x2="503.90" y2="314.05" stroke="#222" stroke-width="1.0"/>
<text x="386.68" y="324.10" font-size="8.8" fill="#2a2a2a" textLength="15.79" lengthAdjust="spacingAndGlyphs">Post</text>
<text x="387.40" y="333.80" font-size="8.8" fill="#2a2a2a" textLength="15.16" lengthAdjust="spacingAndGlyphs">ASA</text>
<text x="425.02" y="324.10" font-size="8.8" fill="#2a2a2a" textLength="8.62" lengthAdjust="spacingAndGlyphs">1h</text>
<text x="462.68" y="324.10" font-size="8.8" fill="#2a2a2a" textLength="8.44" lengthAdjust="spacingAndGlyphs">4h</text>
<text x="497.00" y="324.10" font-size="8.8" fill="#2a2a2a" textLength="14.18" lengthAdjust="spacingAndGlyphs">24h</text>
<line x1="433.00" y1="329.20" x2="492.80" y2="329.20" stroke="#222" stroke-width="1.0"/>
<text x="451.48" y="340.80" font-size="10" fill="#2a2a2a" textLength="23.12" lengthAdjust="spacingAndGlyphs">Post-Tx</text>
<line x1="428.70" y1="280.00" x2="428.70" y2="288.75" stroke="#6cc3df" stroke-width="1.2"/>
<line x1="426.90" y1="280.00" x2="430.50" y2="280.00" stroke="#6cc3df" stroke-width="1.2"/>
<line x1="426.90" y1="288.75" x2="430.50" y2="288.75" stroke="#6cc3df" stroke-width="1.2"/>
<line x1="466.40" y1="281.25" x2="466.40" y2="291.25" stroke="#6cc3df" stroke-width="1.2"/>
<line x1="464.60" y1="281.25" x2="468.20" y2="281.25" stroke="#6cc3df" stroke-width="1.2"/>
<line x1="464.60" y1="291.25" x2="468.20" y2="291.25" stroke="#6cc3df" stroke-width="1.2"/>
<line x1="503.90" y1="287.00" x2="503.90" y2="294.50" stroke="#6cc3df" stroke-width="1.2"/>
<line x1="502.10" y1="287.00" x2="505.70" y2="287.00" stroke="#6cc3df" stroke-width="1.2"/>
<line x1="502.10" y1="294.50" x2="505.70" y2="294.50" stroke="#6cc3df" stroke-width="1.2"/>
<polyline points="395.10,285.60 428.70,285.00 466.40,286.25 503.90,290.75" fill="none" stroke="#3a9fc4" stroke-width="1.0"/>
<rect x="393.20" y="283.70" width="3.8" height="3.8" fill="#2a9dcc"/>
<rect x="426.80" y="283.10" width="3.8" height="3.8" fill="#2a9dcc"/>
<rect x="464.50" y="284.35" width="3.8" height="3.8" fill="#2a9dcc"/>
<rect x="502.00" y="288.85" width="3.8" height="3.8" fill="#2a9dcc"/>
<line x1="428.70" y1="243.25" x2="428.70" y2="266.75" stroke="#bd4a68" stroke-width="1.2"/>
<line x1="426.90" y1="243.25" x2="430.50" y2="243.25" stroke="#bd4a68" stroke-width="1.2"/>
<line x1="426.90" y1="266.75" x2="430.50" y2="266.75" stroke="#bd4a68" stroke-width="1.2"/>
<line x1="466.40" y1="231.50" x2="466.40" y2="275.25" stroke="#bd4a68" stroke-width="1.2"/>
<line x1="464.60" y1="231.50" x2="468.20" y2="231.50" stroke="#bd4a68" stroke-width="1.2"/>
<line x1="464.60" y1="275.25" x2="468.20" y2="275.25" stroke="#bd4a68" stroke-width="1.2"/>
<line x1="503.90" y1="243.00" x2="503.90" y2="289.50" stroke="#bd4a68" stroke-width="1.2"/>
<line x1="502.10" y1="243.00" x2="505.70" y2="243.00" stroke="#bd4a68" stroke-width="1.2"/>
<line x1="502.10" y1="289.50" x2="505.70" y2="289.50" stroke="#bd4a68" stroke-width="1.2"/>
<polyline points="395.10,285.60 428.70,255.00 466.40,253.50 503.90,266.00" fill="none" stroke="#b01440" stroke-width="1.15"/>
<rect x="393.20" y="283.70" width="3.8" height="3.8" rx="0.9" fill="#b80c3c"/>
<circle cx="428.70" cy="255.00" r="2.05" fill="#b80c3c"/>
<circle cx="466.40" cy="253.50" r="2.05" fill="#b80c3c"/>
<circle cx="503.90" cy="266.00" r="2.05" fill="#b80c3c"/>
<path d="M426.85,237.40L426.85,240.10 M428.02,238.08L425.68,239.42 M428.02,239.43L425.68,238.07" stroke="#2a2a2a" stroke-width="0.8" fill="none"/>
<path d="M430.55,237.40L430.55,240.10 M431.72,238.08L429.38,239.42 M431.72,239.43L429.38,238.07" stroke="#2a2a2a" stroke-width="0.8" fill="none"/>
<path d="M462.70,226.65L462.70,229.35 M463.87,227.33L461.53,228.67 M463.87,228.68L461.53,227.32" stroke="#2a2a2a" stroke-width="0.8" fill="none"/>
<path d="M466.40,226.65L466.40,229.35 M467.57,227.33L465.23,228.67 M467.57,228.68L465.23,227.32" stroke="#2a2a2a" stroke-width="0.8" fill="none"/>
<path d="M470.10,226.65L470.10,229.35 M471.27,227.33L468.93,228.67 M471.27,228.68L468.93,227.32" stroke="#2a2a2a" stroke-width="0.8" fill="none"/>
<path d="M502.05,237.40L502.05,240.10 M503.22,238.08L500.88,239.42 M503.22,239.43L500.88,238.07" stroke="#2a2a2a" stroke-width="0.8" fill="none"/>
<path d="M505.75,237.40L505.75,240.10 M506.92,238.08L504.58,239.42 M506.92,239.43L504.58,238.07" stroke="#2a2a2a" stroke-width="0.8" fill="none"/>
<text x="6.85" y="368.70" font-size="11.8" fill="#111" textLength="8.64" lengthAdjust="spacingAndGlyphs" font-weight="bold">H</text>
<text x="66.93" y="366.50" font-size="10.1" fill="#2a2a2a" textLength="65.99" lengthAdjust="spacingAndGlyphs" style="stroke-width:0.05px">12,13-diHOME</text>
<text x="38.62" y="376.60" font-size="7.9" fill="#2a2a2a" textLength="121.31" lengthAdjust="spacingAndGlyphs" style="stroke-width:0.05px">(normalized to Post-ASA sample)</text>
<text x="0" y="0" font-size="9.9" fill="#2a2a2a" textLength="78.84" lengthAdjust="spacingAndGlyphs" transform="translate(15.30,473.48) rotate(-90)">Percentage of post ASA</text>
<line x1="40.50" y1="381.70" x2="40.50" y2="487.45" stroke="#222" stroke-width="1.2"/>
<line x1="37.20" y1="384.50" x2="40.50" y2="384.50" stroke="#222" stroke-width="1.0"/>
<text x="21.24" y="387.70" font-size="9" fill="#2a2a2a" textLength="12.85" lengthAdjust="spacingAndGlyphs">250</text>
<line x1="37.20" y1="404.95" x2="40.50" y2="404.95" stroke="#222" stroke-width="1.0"/>
<text x="21.24" y="408.15" font-size="9" fill="#2a2a2a" textLength="12.85" lengthAdjust="spacingAndGlyphs">200</text>
<line x1="37.20" y1="425.40" x2="40.50" y2="425.40" stroke="#222" stroke-width="1.0"/>
<text x="21.11" y="428.60" font-size="9" fill="#2a2a2a" textLength="12.98" lengthAdjust="spacingAndGlyphs">150</text>
<line x1="37.20" y1="445.90" x2="40.50" y2="445.90" stroke="#222" stroke-width="1.0"/>
<text x="21.11" y="449.10" font-size="9" fill="#2a2a2a" textLength="12.98" lengthAdjust="spacingAndGlyphs">100</text>
<line x1="37.20" y1="466.35" x2="40.50" y2="466.35" stroke="#222" stroke-width="1.0"/>
<text x="25.56" y="469.55" font-size="9" fill="#2a2a2a" textLength="8.53" lengthAdjust="spacingAndGlyphs">50</text>
<line x1="37.20" y1="486.80" x2="40.50" y2="486.80" stroke="#222" stroke-width="1.0"/>
<text x="29.76" y="490.00" font-size="9" fill="#2a2a2a" textLength="4.34" lengthAdjust="spacingAndGlyphs">0</text>
<line x1="39.90" y1="486.85" x2="158.40" y2="486.85" stroke="#222" stroke-width="1.2"/>
<line x1="44.60" y1="486.85" x2="44.60" y2="489.75" stroke="#222" stroke-width="1.0"/>
<line x1="77.90" y1="486.85" x2="77.90" y2="489.75" stroke="#222" stroke-width="1.0"/>
<line x1="115.50" y1="486.85" x2="115.50" y2="489.75" stroke="#222" stroke-width="1.0"/>
<line x1="153.20" y1="486.85" x2="153.20" y2="489.75" stroke="#222" stroke-width="1.0"/>
<text x="36.18" y="499.80" font-size="8.8" fill="#2a2a2a" textLength="15.79" lengthAdjust="spacingAndGlyphs">Post</text>
<text x="36.90" y="509.50" font-size="8.8" fill="#2a2a2a" textLength="15.16" lengthAdjust="spacingAndGlyphs">ASA</text>
<text x="74.22" y="499.80" font-size="8.8" fill="#2a2a2a" textLength="8.62" lengthAdjust="spacingAndGlyphs">1h</text>
<text x="111.78" y="499.80" font-size="8.8" fill="#2a2a2a" textLength="8.44" lengthAdjust="spacingAndGlyphs">4h</text>
<text x="146.30" y="499.80" font-size="8.8" fill="#2a2a2a" textLength="14.18" lengthAdjust="spacingAndGlyphs">24h</text>
<line x1="84.40" y1="504.90" x2="142.80" y2="504.90" stroke="#222" stroke-width="1.0"/>
<text x="101.97" y="516.50" font-size="10" fill="#2a2a2a" textLength="23.23" lengthAdjust="spacingAndGlyphs">Post-Tx</text>
<line x1="77.90" y1="441.75" x2="77.90" y2="454.25" stroke="#6cc3df" stroke-width="1.2"/>
<line x1="76.10" y1="441.75" x2="79.70" y2="441.75" stroke="#6cc3df" stroke-width="1.2"/>
<line x1="76.10" y1="454.25" x2="79.70" y2="454.25" stroke="#6cc3df" stroke-width="1.2"/>
<line x1="115.50" y1="448.00" x2="115.50" y2="458.00" stroke="#6cc3df" stroke-width="1.2"/>
<line x1="113.70" y1="448.00" x2="117.30" y2="448.00" stroke="#6cc3df" stroke-width="1.2"/>
<line x1="113.70" y1="458.00" x2="117.30" y2="458.00" stroke="#6cc3df" stroke-width="1.2"/>
<line x1="153.20" y1="451.25" x2="153.20" y2="461.25" stroke="#6cc3df" stroke-width="1.2"/>
<line x1="151.40" y1="451.25" x2="155.00" y2="451.25" stroke="#6cc3df" stroke-width="1.2"/>
<line x1="151.40" y1="461.25" x2="155.00" y2="461.25" stroke="#6cc3df" stroke-width="1.2"/>
<polyline points="44.60,445.90 77.90,448.00 115.50,453.25 153.20,456.75" fill="none" stroke="#3a9fc4" stroke-width="1.0"/>
<rect x="42.70" y="444.00" width="3.8" height="3.8" fill="#2a9dcc"/>
<rect x="76.00" y="446.10" width="3.8" height="3.8" fill="#2a9dcc"/>
<rect x="113.60" y="451.35" width="3.8" height="3.8" fill="#2a9dcc"/>
<rect x="151.30" y="454.85" width="3.8" height="3.8" fill="#2a9dcc"/>
<line x1="77.90" y1="400.75" x2="77.90" y2="427.00" stroke="#bd4a68" stroke-width="1.2"/>
<line x1="76.10" y1="400.75" x2="79.70" y2="400.75" stroke="#bd4a68" stroke-width="1.2"/>
<line x1="76.10" y1="427.00" x2="79.70" y2="427.00" stroke="#bd4a68" stroke-width="1.2"/>
<line x1="115.50" y1="412.50" x2="115.50" y2="448.00" stroke="#bd4a68" stroke-width="1.2"/>
<line x1="113.70" y1="412.50" x2="117.30" y2="412.50" stroke="#bd4a68" stroke-width="1.2"/>
<line x1="113.70" y1="448.00" x2="117.30" y2="448.00" stroke="#bd4a68" stroke-width="1.2"/>
<line x1="153.20" y1="421.25" x2="153.20" y2="450.50" stroke="#bd4a68" stroke-width="1.2"/>
<line x1="151.40" y1="421.25" x2="155.00" y2="421.25" stroke="#bd4a68" stroke-width="1.2"/>
<line x1="151.40" y1="450.50" x2="155.00" y2="450.50" stroke="#bd4a68" stroke-width="1.2"/>
<polyline points="44.60,445.90 77.90,414.25 115.50,429.50 153.20,435.50" fill="none" stroke="#b01440" stroke-width="1.15"/>
<rect x="42.70" y="444.00" width="3.8" height="3.8" rx="0.9" fill="#b80c3c"/>
<circle cx="77.90" cy="414.25" r="2.05" fill="#b80c3c"/>
<circle cx="115.50" cy="429.50" r="2.05" fill="#b80c3c"/>
<circle cx="153.20" cy="435.50" r="2.05" fill="#b80c3c"/>
<text x="77.90" y="398.35" font-size="8.6" text-anchor="middle" fill="#2a2a2a" textLength="25.6" lengthAdjust="spacingAndGlyphs"><tspan font-style="italic">P</tspan> = .01</text>
<text x="115.50" y="410.60" font-size="8.6" text-anchor="middle" fill="#2a2a2a" textLength="25.6" lengthAdjust="spacingAndGlyphs"><tspan font-style="italic">P</tspan> = .06</text>
<text x="153.20" y="418.85" font-size="8.6" text-anchor="middle" fill="#2a2a2a" textLength="25.6" lengthAdjust="spacingAndGlyphs"><tspan font-style="italic">P</tspan> = .12</text>
<text x="181.08" y="368.70" font-size="11.8" fill="#111" textLength="4.09" lengthAdjust="spacingAndGlyphs" font-weight="bold">I</text>
<text x="245.68" y="366.50" font-size="10.1" fill="#2a2a2a" textLength="57.53" lengthAdjust="spacingAndGlyphs" style="stroke-width:0.05px">9,10-EpOME</text>
<text x="214.12" y="376.60" font-size="7.9" fill="#2a2a2a" textLength="120.81" lengthAdjust="spacingAndGlyphs" style="stroke-width:0.05px">(normalized to Post-ASA sample)</text>
<text x="0" y="0" font-size="9.9" fill="#2a2a2a" textLength="78.84" lengthAdjust="spacingAndGlyphs" transform="translate(190.30,473.48) rotate(-90)">Percentage of post ASA</text>
<line x1="215.50" y1="381.70" x2="215.50" y2="487.45" stroke="#222" stroke-width="1.2"/>
<line x1="212.20" y1="384.50" x2="215.50" y2="384.50" stroke="#222" stroke-width="1.0"/>
<text x="196.48" y="387.70" font-size="9" fill="#2a2a2a" textLength="12.61" lengthAdjust="spacingAndGlyphs">400</text>
<line x1="212.20" y1="410.10" x2="215.50" y2="410.10" stroke="#222" stroke-width="1.0"/>
<text x="196.36" y="413.30" font-size="9" fill="#2a2a2a" textLength="12.73" lengthAdjust="spacingAndGlyphs">300</text>
<line x1="212.20" y1="435.60" x2="215.50" y2="435.60" stroke="#222" stroke-width="1.0"/>
<text x="196.24" y="438.80" font-size="9" fill="#2a2a2a" textLength="12.85" lengthAdjust="spacingAndGlyphs">200</text>
<line x1="212.20" y1="461.20" x2="215.50" y2="461.20" stroke="#222" stroke-width="1.0"/>
<text x="196.11" y="464.40" font-size="9" fill="#2a2a2a" textLength="12.98" lengthAdjust="spacingAndGlyphs">100</text>
<line x1="212.20" y1="486.80" x2="215.50" y2="486.80" stroke="#222" stroke-width="1.0"/>
<text x="204.76" y="490.00" font-size="9" fill="#2a2a2a" textLength="4.34" lengthAdjust="spacingAndGlyphs">0</text>
<line x1="214.90" y1="486.85" x2="332.60" y2="486.85" stroke="#222" stroke-width="1.2"/>
<line x1="219.40" y1="486.85" x2="219.40" y2="489.75" stroke="#222" stroke-width="1.0"/>
<line x1="252.90" y1="486.85" x2="252.90" y2="489.75" stroke="#222" stroke-width="1.0"/>
<line x1="291.00" y1="486.85" x2="291.00" y2="489.75" stroke="#222" stroke-width="1.0"/>
<line x1="329.40" y1="486.85" x2="329.40" y2="489.75" stroke="#222" stroke-width="1.0"/>
<text x="210.98" y="499.80" font-size="8.8" fill="#2a2a2a" textLength="15.79" lengthAdjust="spacingAndGlyphs">Post</text>
<text x="211.70" y="509.50" font-size="8.8" fill="#2a2a2a" textLength="15.16" lengthAdjust="spacingAndGlyphs">ASA</text>
<text x="249.22" y="499.80" font-size="8.8" fill="#2a2a2a" textLength="8.62" lengthAdjust="spacingAndGlyphs">1h</text>
<text x="287.28" y="499.80" font-size="8.8" fill="#2a2a2a" textLength="8.44" lengthAdjust="spacingAndGlyphs">4h</text>
<text x="322.50" y="499.80" font-size="8.8" fill="#2a2a2a" textLength="14.18" lengthAdjust="spacingAndGlyphs">24h</text>
<line x1="258.80" y1="504.90" x2="321.70" y2="504.90" stroke="#222" stroke-width="1.0"/>
<text x="278.28" y="516.50" font-size="10" fill="#2a2a2a" textLength="22.92" lengthAdjust="spacingAndGlyphs">Post-Tx</text>
<line x1="252.90" y1="442.00" x2="252.90" y2="455.50" stroke="#6cc3df" stroke-width="1.2"/>
<line x1="251.10" y1="442.00" x2="254.70" y2="442.00" stroke="#6cc3df" stroke-width="1.2"/>
<line x1="251.10" y1="455.50" x2="254.70" y2="455.50" stroke="#6cc3df" stroke-width="1.2"/>
<line x1="291.00" y1="452.50" x2="291.00" y2="463.25" stroke="#6cc3df" stroke-width="1.2"/>
<line x1="289.20" y1="452.50" x2="292.80" y2="452.50" stroke="#6cc3df" stroke-width="1.2"/>
<line x1="289.20" y1="463.25" x2="292.80" y2="463.25" stroke="#6cc3df" stroke-width="1.2"/>
<line x1="329.40" y1="462.00" x2="329.40" y2="467.00" stroke="#6cc3df" stroke-width="1.2"/>
<line x1="327.60" y1="462.00" x2="331.20" y2="462.00" stroke="#6cc3df" stroke-width="1.2"/>
<line x1="327.60" y1="467.00" x2="331.20" y2="467.00" stroke="#6cc3df" stroke-width="1.2"/>
<polyline points="219.40,461.20 252.90,448.75 291.00,458.00 329.40,464.50" fill="none" stroke="#3a9fc4" stroke-width="1.0"/>
<rect x="217.50" y="459.30" width="3.8" height="3.8" fill="#2a9dcc"/>
<rect x="251.00" y="446.85" width="3.8" height="3.8" fill="#2a9dcc"/>
<rect x="289.10" y="456.10" width="3.8" height="3.8" fill="#2a9dcc"/>
<rect x="327.50" y="462.60" width="3.8" height="3.8" fill="#2a9dcc"/>
<line x1="252.90" y1="408.25" x2="252.90" y2="448.75" stroke="#bd4a68" stroke-width="1.2"/>
<line x1="251.10" y1="408.25" x2="254.70" y2="408.25" stroke="#bd4a68" stroke-width="1.2"/>
<line x1="251.10" y1="448.75" x2="254.70" y2="448.75" stroke="#bd4a68" stroke-width="1.2"/>
<line x1="291.00" y1="423.00" x2="291.00" y2="457.50" stroke="#bd4a68" stroke-width="1.2"/>
<line x1="289.20" y1="423.00" x2="292.80" y2="423.00" stroke="#bd4a68" stroke-width="1.2"/>
<line x1="289.20" y1="457.50" x2="292.80" y2="457.50" stroke="#bd4a68" stroke-width="1.2"/>
<line x1="329.40" y1="438.25" x2="329.40" y2="459.25" stroke="#bd4a68" stroke-width="1.2"/>
<line x1="327.60" y1="438.25" x2="331.20" y2="438.25" stroke="#bd4a68" stroke-width="1.2"/>
<line x1="327.60" y1="459.25" x2="331.20" y2="459.25" stroke="#bd4a68" stroke-width="1.2"/>
<polyline points="219.40,461.20 252.90,428.00 291.00,440.00 329.40,449.00" fill="none" stroke="#b01440" stroke-width="1.15"/>
<rect x="217.50" y="459.30" width="3.8" height="3.8" rx="0.9" fill="#b80c3c"/>
<circle cx="252.90" cy="428.00" r="2.05" fill="#b80c3c"/>
<circle cx="291.00" cy="440.00" r="2.05" fill="#b80c3c"/>
<circle cx="329.40" cy="449.00" r="2.05" fill="#b80c3c"/>
<text x="252.90" y="406.35" font-size="8.6" text-anchor="middle" fill="#2a2a2a" textLength="25.6" lengthAdjust="spacingAndGlyphs"><tspan font-style="italic">P</tspan> = .02</text>
<text x="291.00" y="420.60" font-size="8.6" text-anchor="middle" fill="#2a2a2a" textLength="25.6" lengthAdjust="spacingAndGlyphs"><tspan font-style="italic">P</tspan> = .03</text>
<text x="329.40" y="436.60" font-size="8.6" text-anchor="middle" fill="#2a2a2a" textLength="25.6" lengthAdjust="spacingAndGlyphs"><tspan font-style="italic">P</tspan> = .09</text>
<text x="358.10" y="368.70" font-size="11.8" fill="#111" textLength="5.78" lengthAdjust="spacingAndGlyphs" font-weight="bold">J</text>
<text x="419.38" y="366.50" font-size="10.1" fill="#2a2a2a" textLength="62.94" lengthAdjust="spacingAndGlyphs" style="stroke-width:0.05px">12,13-EpOME</text>
<text x="389.61" y="376.60" font-size="7.9" fill="#2a2a2a" textLength="121.81" lengthAdjust="spacingAndGlyphs" style="stroke-width:0.05px">(normalized to Post-ASA sample)</text>
<text x="0" y="0" font-size="9.9" fill="#2a2a2a" textLength="78.84" lengthAdjust="spacingAndGlyphs" transform="translate(366.30,473.48) rotate(-90)">Percentage of post ASA</text>
<line x1="391.50" y1="381.70" x2="391.50" y2="487.45" stroke="#222" stroke-width="1.2"/>
<line x1="388.20" y1="384.50" x2="391.50" y2="384.50" stroke="#222" stroke-width="1.0"/>
<text x="372.36" y="387.70" font-size="9" fill="#2a2a2a" textLength="12.73" lengthAdjust="spacingAndGlyphs">500</text>
<line x1="388.20" y1="404.96" x2="391.50" y2="404.96" stroke="#222" stroke-width="1.0"/>
<text x="372.48" y="408.16" font-size="9" fill="#2a2a2a" textLength="12.61" lengthAdjust="spacingAndGlyphs">400</text>
<line x1="388.20" y1="425.40" x2="391.50" y2="425.40" stroke="#222" stroke-width="1.0"/>
<text x="372.36" y="428.60" font-size="9" fill="#2a2a2a" textLength="12.73" lengthAdjust="spacingAndGlyphs">300</text>
<line x1="388.20" y1="445.90" x2="391.50" y2="445.90" stroke="#222" stroke-width="1.0"/>
<text x="372.24" y="449.10" font-size="9" fill="#2a2a2a" textLength="12.85" lengthAdjust="spacingAndGlyphs">200</text>
<line x1="388.20" y1="466.35" x2="391.50" y2="466.35" stroke="#222" stroke-width="1.0"/>
<text x="372.11" y="469.55" font-size="9" fill="#2a2a2a" textLength="12.98" lengthAdjust="spacingAndGlyphs">100</text>
<line x1="388.20" y1="486.80" x2="391.50" y2="486.80" stroke="#222" stroke-width="1.0"/>
<text x="380.76" y="490.00" font-size="9" fill="#2a2a2a" textLength="4.34" lengthAdjust="spacingAndGlyphs">0</text>
<line x1="390.90" y1="486.85" x2="508.60" y2="486.85" stroke="#222" stroke-width="1.2"/>
<line x1="394.90" y1="486.85" x2="394.90" y2="489.75" stroke="#222" stroke-width="1.0"/>
<line x1="429.20" y1="486.85" x2="429.20" y2="489.75" stroke="#222" stroke-width="1.0"/>
<line x1="467.60" y1="486.85" x2="467.60" y2="489.75" stroke="#222" stroke-width="1.0"/>
<line x1="505.60" y1="486.85" x2="505.60" y2="489.75" stroke="#222" stroke-width="1.0"/>
<text x="386.48" y="499.80" font-size="8.8" fill="#2a2a2a" textLength="15.79" lengthAdjust="spacingAndGlyphs">Post</text>
<text x="387.20" y="509.50" font-size="8.8" fill="#2a2a2a" textLength="15.16" lengthAdjust="spacingAndGlyphs">ASA</text>
<text x="425.52" y="499.80" font-size="8.8" fill="#2a2a2a" textLength="8.62" lengthAdjust="spacingAndGlyphs">1h</text>
<text x="463.88" y="499.80" font-size="8.8" fill="#2a2a2a" textLength="8.44" lengthAdjust="spacingAndGlyphs">4h</text>
<text x="498.70" y="499.80" font-size="8.8" fill="#2a2a2a" textLength="14.18" lengthAdjust="spacingAndGlyphs">24h</text>
<line x1="432.30" y1="504.90" x2="497.20" y2="504.90" stroke="#222" stroke-width="1.0"/>
<text x="453.28" y="516.50" font-size="10" fill="#2a2a2a" textLength="23.12" lengthAdjust="spacingAndGlyphs">Post-Tx</text>
<line x1="429.20" y1="449.25" x2="429.20" y2="462.50" stroke="#6cc3df" stroke-width="1.2"/>
<line x1="427.40" y1="449.25" x2="431.00" y2="449.25" stroke="#6cc3df" stroke-width="1.2"/>
<line x1="427.40" y1="462.50" x2="431.00" y2="462.50" stroke="#6cc3df" stroke-width="1.2"/>
<line x1="467.60" y1="459.25" x2="467.60" y2="470.50" stroke="#6cc3df" stroke-width="1.2"/>
<line x1="465.80" y1="459.25" x2="469.40" y2="459.25" stroke="#6cc3df" stroke-width="1.2"/>
<line x1="465.80" y1="470.50" x2="469.40" y2="470.50" stroke="#6cc3df" stroke-width="1.2"/>
<line x1="505.60" y1="470.00" x2="505.60" y2="475.00" stroke="#6cc3df" stroke-width="1.2"/>
<line x1="503.80" y1="470.00" x2="507.40" y2="470.00" stroke="#6cc3df" stroke-width="1.2"/>
<line x1="503.80" y1="475.00" x2="507.40" y2="475.00" stroke="#6cc3df" stroke-width="1.2"/>
<polyline points="394.90,466.35 429.20,455.75 467.60,465.00 505.60,472.50" fill="none" stroke="#3a9fc4" stroke-width="1.0"/>
<rect x="393.00" y="464.45" width="3.8" height="3.8" fill="#2a9dcc"/>
<rect x="427.30" y="453.85" width="3.8" height="3.8" fill="#2a9dcc"/>
<rect x="465.70" y="463.10" width="3.8" height="3.8" fill="#2a9dcc"/>
<rect x="503.70" y="470.60" width="3.8" height="3.8" fill="#2a9dcc"/>
<line x1="429.20" y1="399.25" x2="429.20" y2="440.50" stroke="#bd4a68" stroke-width="1.2"/>
<line x1="427.40" y1="399.25" x2="431.00" y2="399.25" stroke="#bd4a68" stroke-width="1.2"/>
<line x1="427.40" y1="440.50" x2="431.00" y2="440.50" stroke="#bd4a68" stroke-width="1.2"/>
<line x1="467.60" y1="412.50" x2="467.60" y2="451.25" stroke="#bd4a68" stroke-width="1.2"/>
<line x1="465.80" y1="412.50" x2="469.40" y2="412.50" stroke="#bd4a68" stroke-width="1.2"/>
<line x1="465.80" y1="451.25" x2="469.40" y2="451.25" stroke="#bd4a68" stroke-width="1.2"/>
<line x1="505.60" y1="406.25" x2="505.60" y2="452.50" stroke="#bd4a68" stroke-width="1.2"/>
<line x1="503.80" y1="406.25" x2="507.40" y2="406.25" stroke="#bd4a68" stroke-width="1.2"/>
<line x1="503.80" y1="452.50" x2="507.40" y2="452.50" stroke="#bd4a68" stroke-width="1.2"/>
<polyline points="394.90,466.35 429.20,420.00 467.60,431.75 505.60,429.25" fill="none" stroke="#b01440" stroke-width="1.15"/>
<rect x="393.00" y="464.45" width="3.8" height="3.8" rx="0.9" fill="#b80c3c"/>
<circle cx="429.20" cy="420.00" r="2.05" fill="#b80c3c"/>
<circle cx="467.60" cy="431.75" r="2.05" fill="#b80c3c"/>
<circle cx="505.60" cy="429.25" r="2.05" fill="#b80c3c"/>
<path d="M425.50,393.65L425.50,396.35 M426.67,394.33L424.33,395.67 M426.67,395.68L424.33,394.32" stroke="#2a2a2a" stroke-width="0.8" fill="none"/>
<path d="M429.20,393.65L429.20,396.35 M430.37,394.33L428.03,395.67 M430.37,395.68L428.03,394.32" stroke="#2a2a2a" stroke-width="0.8" fill="none"/>
<path d="M432.90,393.65L432.90,396.35 M434.07,394.33L431.73,395.67 M434.07,395.68L431.73,394.32" stroke="#2a2a2a" stroke-width="0.8" fill="none"/>
<path d="M463.90,406.65L463.90,409.35 M465.07,407.33L462.73,408.67 M465.07,408.68L462.73,407.32" stroke="#2a2a2a" stroke-width="0.8" fill="none"/>
<path d="M467.60,406.65L467.60,409.35 M468.77,407.33L466.43,408.67 M468.77,408.68L466.43,407.32" stroke="#2a2a2a" stroke-width="0.8" fill="none"/>
<path d="M471.30,406.65L471.30,409.35 M472.47,407.33L470.13,408.67 M472.47,408.68L470.13,407.32" stroke="#2a2a2a" stroke-width="0.8" fill="none"/>
<path d="M501.90,399.90L501.90,402.60 M503.07,400.58L500.73,401.92 M503.07,401.93L500.73,400.57" stroke="#2a2a2a" stroke-width="0.8" fill="none"/>
<path d="M505.60,399.90L505.60,402.60 M506.77,400.58L504.43,401.92 M506.77,401.93L504.43,400.57" stroke="#2a2a2a" stroke-width="0.8" fill="none"/>
<path d="M509.30,399.90L509.30,402.60 M510.47,400.58L508.13,401.92 M510.47,401.93L508.13,400.57" stroke="#2a2a2a" stroke-width="0.8" fill="none"/>
<circle cx="238.1" cy="529.7" r="1.95" fill="#b80c3c"/>
<text x="244.43" y="532.00" font-size="8.8" fill="#2a2a2a" textLength="9.59" lengthAdjust="spacingAndGlyphs">RT</text>
<rect x="261.5" y="527.85" width="3.8" height="3.8" fill="#2a9dcc"/>
<text x="269.38" y="532.00" font-size="8.8" fill="#2a2a2a" textLength="18.21" lengthAdjust="spacingAndGlyphs">Cold</text>
</svg></body></html>
